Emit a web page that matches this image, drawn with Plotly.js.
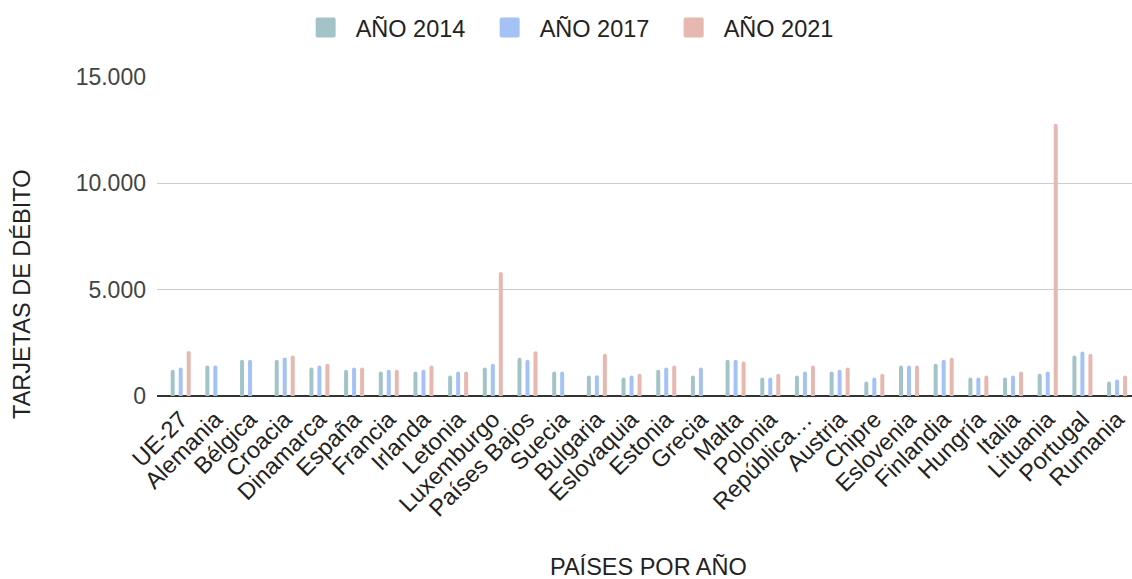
<!DOCTYPE html>
<html>
<head>
<meta charset="utf-8">
<script src="https://cdn.plot.ly/plotly-3.0.1.min.js"></script>
<style>
  html, body { margin: 0; padding: 0; background: #fff; }
  #chart { width: 1132px; height: 579px; }
</style>
</head>
<body>
<div id="chart"></div>
<script>
const countries = ["UE-27","Alemania","Bélgica","Croacia","Dinamarca","España","Francia","Irlanda","Letonia","Luxemburgo","Países Bajos","Suecia","Bulgaria","Eslovaquia","Estonia","Grecia","Malta","Polonia","República…","Austria","Chipre","Eslovenia","Finlandia","Hungría","Italia","Lituania","Portugal","Rumania"];
const seriesNames = ["AÑO 2014","AÑO 2017","AÑO 2021"];
const values2014 = [1240,1430,1710,1710,1340,1240,1150,1150,960,1340,1800,1150,960,870,1240,960,1710,870,960,1150,680,1430,1520,870,870,1050,1900,680];
const values2017 = [1340,1430,1710,1800,1430,1340,1240,1240,1150,1520,1710,1150,960,960,1340,1340,1710,870,1150,1240,870,1430,1710,870,960,1150,2090,770];
const values2021 = [2100,null,null,1900,1520,1340,1240,1430,1150,5830,2100,null,1990,1050,1430,null,1620,1050,1430,1340,1050,1430,1800,960,1150,12800,1990,960];
const yTicks = [0,5000,10000,15000];
const colors = ["#a2c4c9","#a4c2f4","#e6b8af"];

const allValues = [values2014, values2017, values2021];
const traces = allValues.map((vals, i) => ({
  type: "bar",
  name: seriesNames[i],
  x: countries,
  y: vals,
  marker: { color: colors[i], cornerradius: 2, line: { width: 0 } },
  hoverinfo: "x+y+name"
}));

const font = "'Liberation Sans', Arial, sans-serif";
const layout = {
  width: 1132, height: 579,
  margin: { l: 157, r: 0, t: 77, b: 183, pad: 0 },
  paper_bgcolor: "#fff", plot_bgcolor: "#fff",
  separators: ",.",
  barmode: "group",
  bargap: 0.308,
  bargroupgap: 0.5,
  font: { family: font, size: 23, color: "#222" },
  showlegend: true,
  legend: {
    orientation: "h",
    xref: "container", yref: "container",
    x: 0.505, xanchor: "center",
    y: 0.952, yanchor: "middle",
    font: { family: font, size: 23.5, color: "#222" },
    itemwidth: 50,
    entrywidth: 119,
    entrywidthmode: "pixels",
    traceorder: "normal"
  },
  xaxis: {
    type: "category",
    range: [-0.683, 27.43],
    tickangle: -45,
    tickfont: { family: font, size: 23.5, color: "#222" },
    ticklabelstandoff: 4,
    showgrid: false,
    showline: false,
    zeroline: false,
    ticks: "",
    fixedrange: true
  },
  yaxis: {
    range: [0, 15000],
    tickvals: yTicks,
    tickformat: ",d",
    tickfont: { family: font, size: 23, color: "#444" },
    showgrid: true,
    gridcolor: "#cccccc",
    gridwidth: 1.5,
    zeroline: true,
    zerolinecolor: "#333333",
    zerolinewidth: 2,
    showline: false,
    ticks: "",
    ticklabelstandoff: 10,
    fixedrange: true
  },
  annotations: [
    {
      text: "TARJETAS DE DÉBITO",
      xref: "paper", yref: "paper",
      x: -0.1385, y: 0.3197,
      xanchor: "center", yanchor: "middle",
      textangle: -90,
      showarrow: false,
      font: { family: font, size: 23.5, color: "#222" }
    },
    {
      text: "PAÍSES POR AÑO",
      xref: "paper", yref: "paper",
      x: 0.5036, y: -0.536,
      xanchor: "center", yanchor: "middle",
      showarrow: false,
      font: { family: font, size: 23.5, color: "#222" }
    }
  ]
};

Plotly.newPlot("chart", traces, layout, { displayModeBar: false, staticPlot: true }).then(gd => {
  // enlarge legend swatches to rounded squares like the reference
  const r = 2, h = 10;
  const d = `M${-h + r},${-h}H${h - r}A${r},${r} 0 0 1 ${h},${-h + r}V${h - r}A${r},${r} 0 0 1 ${h - r},${h}H${-h + r}A${r},${r} 0 0 1 ${-h},${h - r}V${-h + r}A${r},${r} 0 0 1 ${-h + r},${-h}Z`;
  gd.querySelectorAll(".legend .legendpoints path").forEach(p => {
    p.setAttribute("d", d);
  });
});
</script>
</body>
</html>
